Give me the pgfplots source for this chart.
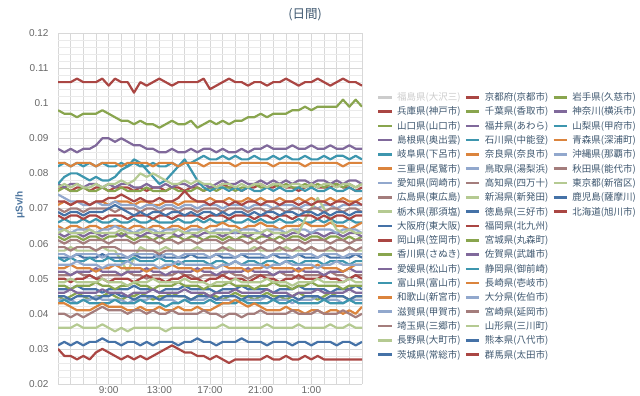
\documentclass[border=0pt]{standalone}
\usepackage{fontspec}
\setmainfont{Liberation Sans}
\newfontfamily\jp{Noto Sans CJK JP}
\usepackage{pgfplots}
\usepackage{pgfplotstable}
\pgfplotsset{compat=1.18}
\definecolor{c0}{HTML}{4572A7}
\definecolor{c1}{HTML}{AA4643}
\definecolor{c2}{HTML}{89A54E}
\definecolor{c3}{HTML}{80699B}
\definecolor{c4}{HTML}{3D96AE}
\definecolor{c5}{HTML}{DB843D}
\definecolor{c6}{HTML}{92A8CD}
\definecolor{c7}{HTML}{A47D7C}
\definecolor{c8}{HTML}{B5CA92}
\definecolor{hid}{HTML}{CCCCCC}
\definecolor{legtxt}{HTML}{3E576F}
\definecolor{ticktxt}{HTML}{666666}
\definecolor{ytitle}{HTML}{4D759E}
\definecolor{majg}{HTML}{D8D8D8}
\definecolor{ming}{HTML}{EAEAEA}

\pgfplotstableread{
id 5 5.5 6 6.5 7 7.5 8 8.5 9 9.5 10 10.5 11 11.5 12 12.5 13 13.5 14 14.5 15 15.5 16 16.5 17 17.5 18 18.5 19 19.5 20 20.5 21 21.5 22 22.5 23 23.5 24 24.5 25 25.5 26 26.5 27 27.5 28 28.5 29
s01 0.076 0.076 0.075 0.076 0.076 0.075 0.076 0.076 0.075 0.076 0.076 0.076 0.075 0.076 0.075 0.076 0.076 0.075 0.076 0.076 0.075 0.076 0.076 0.075 0.076 0.076 0.077 0.076 0.076 0.075 0.076 0.076 0.077 0.076 0.076 0.077 0.076 0.076 0.075 0.076 0.077 0.076 0.076 0.076 0.077 0.076 0.076 0.075 0.076
s02 0.075 0.076 0.075 0.075 0.076 0.075 0.075 0.076 0.075 0.075 0.076 0.075 0.075 0.075 0.076 0.075 0.075 0.075 0.076 0.075 0.075 0.075 0.076 0.075 0.076 0.075 0.076 0.076 0.075 0.076 0.076 0.077 0.076 0.076 0.077 0.076 0.077 0.076 0.076 0.077 0.076 0.077 0.076 0.077 0.077 0.076 0.077 0.076 0.077
s03 0.077 0.076 0.077 0.077 0.076 0.077 0.077 0.076 0.077 0.076 0.077 0.077 0.076 0.076 0.077 0.076 0.076 0.077 0.076 0.077 0.077 0.076 0.077 0.077 0.076 0.077 0.078 0.077 0.077 0.078 0.077 0.077 0.078 0.077 0.078 0.077 0.078 0.077 0.078 0.078 0.077 0.078 0.078 0.077 0.078 0.077 0.078 0.078 0.077
s04 0.077 0.079 0.080 0.080 0.079 0.078 0.079 0.078 0.078 0.079 0.081 0.082 0.084 0.083 0.081 0.079 0.077 0.078 0.080 0.082 0.084 0.081 0.078 0.076 0.075 0.076 0.076 0.075 0.076 0.075 0.076 0.075 0.075 0.076 0.075 0.076 0.075 0.075 0.076 0.075 0.076 0.075 0.075 0.076 0.075 0.075 0.076 0.075 0.075
s05 0.071 0.072 0.071 0.072 0.072 0.071 0.072 0.072 0.071 0.072 0.072 0.072 0.071 0.072 0.072 0.071 0.071 0.072 0.072 0.071 0.072 0.072 0.072 0.072 0.073 0.072 0.072 0.073 0.072 0.072 0.073 0.072 0.073 0.072 0.072 0.073 0.072 0.072 0.073 0.072 0.073 0.072 0.072 0.073 0.072 0.073 0.072 0.072 0.073
s06 0.074 0.073 0.072 0.072 0.071 0.071 0.072 0.071 0.071 0.072 0.071 0.071 0.071 0.070 0.071 0.071 0.070 0.071 0.071 0.070 0.071 0.071 0.070 0.071 0.071 0.071 0.070 0.071 0.071 0.071 0.070 0.071 0.071 0.071 0.070 0.071 0.071 0.071 0.070 0.071 0.071 0.070 0.071 0.071 0.070 0.071 0.071 0.071 0.071
s07 0.070 0.069 0.070 0.070 0.069 0.070 0.070 0.070 0.070 0.069 0.070 0.070 0.070 0.069 0.070 0.070 0.069 0.070 0.070 0.069 0.070 0.070 0.069 0.070 0.070 0.070 0.069 0.070 0.070 0.070 0.069 0.070 0.070 0.069 0.070 0.070 0.069 0.070 0.070 0.069 0.070 0.070 0.069 0.070 0.070 0.069 0.070 0.070 0.069
s08 0.076 0.077 0.076 0.077 0.076 0.076 0.077 0.076 0.077 0.077 0.078 0.077 0.078 0.080 0.079 0.080 0.079 0.078 0.077 0.077 0.078 0.077 0.078 0.077 0.077 0.076 0.077 0.077 0.076 0.077 0.076 0.077 0.077 0.076 0.077 0.077 0.076 0.077 0.077 0.076 0.077 0.076 0.077 0.077 0.076 0.077 0.077 0.076 0.077
s09 0.045 0.045 0.044 0.045 0.045 0.045 0.044 0.045 0.045 0.046 0.045 0.045 0.044 0.045 0.045 0.045 0.044 0.045 0.045 0.045 0.045 0.044 0.045 0.045 0.045 0.044 0.045 0.045 0.045 0.044 0.045 0.045 0.045 0.045 0.044 0.045 0.045 0.045 0.044 0.045 0.045 0.045 0.044 0.045 0.045 0.045 0.044 0.045 0.045
s10 0.050 0.050 0.049 0.050 0.050 0.051 0.050 0.050 0.049 0.050 0.050 0.050 0.049 0.050 0.051 0.050 0.050 0.049 0.050 0.050 0.051 0.050 0.050 0.049 0.050 0.050 0.051 0.050 0.050 0.050 0.049 0.050 0.051 0.050 0.050 0.049 0.050 0.050 0.051 0.050 0.050 0.050 0.051 0.050 0.050 0.049 0.050 0.051 0.050
s11 0.048 0.048 0.047 0.048 0.048 0.048 0.049 0.048 0.048 0.047 0.048 0.048 0.049 0.048 0.048 0.047 0.048 0.048 0.048 0.049 0.048 0.048 0.048 0.047 0.048 0.048 0.048 0.049 0.048 0.048 0.048 0.047 0.048 0.048 0.049 0.048 0.048 0.047 0.048 0.048 0.049 0.048 0.048 0.048 0.048 0.047 0.048 0.048 0.048
s12 0.052 0.052 0.051 0.052 0.052 0.052 0.053 0.052 0.052 0.052 0.051 0.052 0.052 0.052 0.053 0.052 0.052 0.051 0.052 0.052 0.052 0.052 0.053 0.052 0.052 0.051 0.052 0.052 0.052 0.052 0.053 0.052 0.052 0.052 0.051 0.052 0.052 0.052 0.053 0.052 0.052 0.052 0.051 0.052 0.052 0.052 0.053 0.052 0.052
s13 0.056 0.055 0.056 0.055 0.055 0.056 0.055 0.055 0.056 0.055 0.055 0.055 0.056 0.055 0.055 0.055 0.056 0.055 0.055 0.054 0.055 0.055 0.055 0.055 0.054 0.055 0.055 0.054 0.055 0.054 0.055 0.055 0.054 0.055 0.055 0.054 0.055 0.055 0.054 0.055 0.055 0.055 0.054 0.055 0.055 0.055 0.054 0.055 0.055
s14 0.053 0.053 0.054 0.053 0.053 0.053 0.052 0.053 0.053 0.054 0.053 0.053 0.053 0.053 0.052 0.053 0.053 0.053 0.054 0.053 0.053 0.053 0.052 0.053 0.053 0.053 0.054 0.053 0.053 0.053 0.052 0.053 0.053 0.054 0.053 0.053 0.053 0.053 0.052 0.053 0.053 0.054 0.053 0.053 0.053 0.052 0.053 0.054 0.054
s15 0.057 0.057 0.056 0.057 0.057 0.057 0.057 0.056 0.057 0.057 0.057 0.056 0.057 0.057 0.057 0.057 0.056 0.057 0.057 0.056 0.057 0.057 0.057 0.057 0.056 0.057 0.057 0.057 0.056 0.057 0.057 0.057 0.057 0.056 0.057 0.057 0.057 0.056 0.057 0.057 0.057 0.056 0.057 0.057 0.057 0.056 0.057 0.057 0.057
s16 0.059 0.059 0.058 0.059 0.059 0.059 0.058 0.059 0.059 0.059 0.058 0.058 0.058 0.058 0.058 0.058 0.057 0.058 0.058 0.058 0.058 0.058 0.058 0.058 0.058 0.058 0.059 0.058 0.058 0.058 0.058 0.058 0.059 0.058 0.058 0.059 0.058 0.058 0.059 0.058 0.059 0.058 0.058 0.059 0.058 0.058 0.059 0.058 0.059
s17 0.036 0.036 0.036 0.037 0.036 0.036 0.036 0.037 0.036 0.035 0.036 0.035 0.036 0.036 0.036 0.036 0.036 0.035 0.036 0.036 0.036 0.036 0.036 0.036 0.036 0.036 0.037 0.036 0.036 0.036 0.036 0.036 0.036 0.037 0.036 0.036 0.036 0.036 0.037 0.036 0.036 0.036 0.036 0.037 0.036 0.036 0.037 0.036 0.036
s18 0.069 0.068 0.069 0.069 0.068 0.069 0.069 0.069 0.070 0.071 0.070 0.069 0.068 0.069 0.068 0.069 0.069 0.068 0.069 0.069 0.068 0.069 0.068 0.069 0.069 0.068 0.069 0.068 0.069 0.069 0.068 0.069 0.068 0.069 0.069 0.068 0.069 0.069 0.068 0.069 0.069 0.068 0.069 0.068 0.069 0.069 0.068 0.069 0.069
s19 0.106 0.106 0.106 0.107 0.106 0.106 0.106 0.107 0.105 0.107 0.106 0.106 0.103 0.106 0.105 0.106 0.107 0.106 0.105 0.106 0.106 0.106 0.106 0.107 0.104 0.105 0.106 0.107 0.106 0.106 0.105 0.106 0.106 0.105 0.106 0.106 0.107 0.106 0.105 0.106 0.106 0.107 0.106 0.105 0.106 0.107 0.106 0.106 0.105
s20 0.062 0.061 0.062 0.062 0.061 0.062 0.062 0.061 0.062 0.062 0.063 0.062 0.061 0.062 0.062 0.061 0.062 0.061 0.062 0.062 0.061 0.062 0.062 0.061 0.062 0.062 0.061 0.062 0.061 0.062 0.062 0.061 0.062 0.062 0.061 0.062 0.061 0.062 0.062 0.061 0.062 0.062 0.061 0.062 0.062 0.061 0.062 0.061 0.062
s21 0.087 0.086 0.087 0.086 0.087 0.087 0.088 0.090 0.090 0.089 0.090 0.089 0.088 0.088 0.087 0.087 0.086 0.086 0.087 0.086 0.086 0.087 0.086 0.087 0.087 0.086 0.087 0.086 0.086 0.087 0.086 0.087 0.087 0.088 0.087 0.087 0.087 0.088 0.087 0.087 0.088 0.087 0.087 0.088 0.087 0.087 0.088 0.087 0.087
s22 0.082 0.083 0.082 0.083 0.082 0.083 0.082 0.083 0.082 0.082 0.083 0.082 0.083 0.082 0.082 0.083 0.082 0.082 0.083 0.082 0.083 0.083 0.084 0.085 0.084 0.084 0.085 0.084 0.085 0.084 0.084 0.085 0.084 0.084 0.085 0.084 0.085 0.084 0.084 0.085 0.084 0.084 0.085 0.084 0.085 0.085 0.084 0.085 0.084
s23 0.083 0.083 0.082 0.083 0.083 0.083 0.082 0.083 0.083 0.083 0.082 0.083 0.083 0.083 0.083 0.082 0.083 0.083 0.083 0.082 0.083 0.083 0.083 0.082 0.083 0.083 0.083 0.083 0.082 0.083 0.083 0.083 0.083 0.083 0.082 0.083 0.083 0.083 0.083 0.082 0.083 0.083 0.083 0.083 0.083 0.082 0.083 0.083 0.083
s24 0.064 0.064 0.063 0.064 0.064 0.064 0.063 0.064 0.064 0.065 0.064 0.064 0.063 0.064 0.064 0.064 0.063 0.064 0.064 0.064 0.063 0.064 0.064 0.064 0.063 0.064 0.064 0.064 0.063 0.064 0.064 0.064 0.063 0.064 0.064 0.064 0.063 0.064 0.064 0.064 0.063 0.064 0.064 0.064 0.063 0.064 0.064 0.064 0.063
s25 0.061 0.060 0.061 0.061 0.060 0.061 0.061 0.061 0.060 0.061 0.061 0.061 0.060 0.061 0.061 0.061 0.060 0.061 0.061 0.060 0.061 0.061 0.060 0.061 0.061 0.061 0.060 0.061 0.061 0.061 0.060 0.061 0.060 0.061 0.061 0.060 0.061 0.061 0.061 0.060 0.061 0.061 0.061 0.060 0.061 0.061 0.060 0.061 0.061
s26 0.058 0.058 0.059 0.058 0.058 0.058 0.058 0.059 0.058 0.058 0.055 0.052 0.056 0.059 0.058 0.058 0.058 0.059 0.058 0.058 0.058 0.058 0.059 0.058 0.058 0.058 0.058 0.059 0.058 0.058 0.058 0.059 0.058 0.058 0.058 0.058 0.059 0.058 0.058 0.058 0.059 0.058 0.058 0.058 0.058 0.058 0.059 0.058 0.058
s27 0.056 0.056 0.056 0.057 0.056 0.056 0.056 0.057 0.056 0.056 0.056 0.056 0.057 0.056 0.056 0.056 0.057 0.056 0.056 0.056 0.056 0.057 0.056 0.056 0.056 0.057 0.056 0.056 0.056 0.057 0.056 0.056 0.056 0.056 0.057 0.056 0.056 0.056 0.057 0.056 0.056 0.056 0.057 0.056 0.056 0.056 0.056 0.057 0.056
s28 0.072 0.072 0.071 0.072 0.072 0.071 0.072 0.072 0.073 0.073 0.074 0.073 0.072 0.073 0.072 0.072 0.073 0.072 0.072 0.073 0.075 0.073 0.072 0.072 0.071 0.072 0.072 0.071 0.072 0.071 0.072 0.072 0.071 0.072 0.072 0.071 0.072 0.072 0.071 0.072 0.071 0.072 0.072 0.071 0.072 0.072 0.071 0.072 0.071
s29 0.098 0.097 0.097 0.096 0.097 0.097 0.097 0.098 0.097 0.096 0.095 0.095 0.094 0.095 0.094 0.094 0.093 0.094 0.095 0.094 0.094 0.095 0.093 0.094 0.095 0.094 0.095 0.094 0.095 0.095 0.096 0.096 0.097 0.096 0.097 0.097 0.097 0.098 0.098 0.099 0.098 0.099 0.099 0.099 0.099 0.101 0.099 0.101 0.099
s30 0.046 0.046 0.047 0.046 0.046 0.046 0.046 0.047 0.046 0.046 0.046 0.045 0.046 0.046 0.046 0.047 0.046 0.046 0.046 0.046 0.047 0.046 0.046 0.046 0.045 0.046 0.046 0.046 0.047 0.046 0.046 0.046 0.046 0.047 0.046 0.046 0.046 0.045 0.046 0.046 0.046 0.047 0.046 0.046 0.046 0.046 0.047 0.046 0.046
s31 0.043 0.044 0.043 0.043 0.044 0.043 0.043 0.043 0.043 0.044 0.043 0.043 0.043 0.044 0.043 0.043 0.043 0.042 0.043 0.043 0.044 0.043 0.043 0.043 0.044 0.043 0.043 0.043 0.043 0.044 0.043 0.043 0.043 0.043 0.044 0.043 0.043 0.044 0.043 0.043 0.043 0.043 0.044 0.043 0.043 0.043 0.044 0.043 0.043
s32 0.043 0.043 0.042 0.041 0.041 0.041 0.042 0.043 0.042 0.042 0.042 0.041 0.041 0.042 0.041 0.041 0.042 0.041 0.041 0.042 0.041 0.041 0.042 0.041 0.041 0.042 0.043 0.043 0.044 0.043 0.042 0.043 0.042 0.041 0.041 0.041 0.042 0.041 0.041 0.040 0.041 0.041 0.040 0.041 0.041 0.040 0.041 0.040 0.042
s33 0.054 0.054 0.054 0.055 0.054 0.054 0.054 0.053 0.054 0.054 0.054 0.055 0.054 0.054 0.054 0.054 0.053 0.054 0.054 0.055 0.054 0.054 0.054 0.054 0.054 0.053 0.054 0.054 0.055 0.054 0.054 0.054 0.054 0.053 0.054 0.054 0.055 0.054 0.054 0.054 0.054 0.053 0.054 0.054 0.055 0.054 0.054 0.054 0.054
s34 0.040 0.040 0.039 0.040 0.039 0.040 0.041 0.042 0.041 0.041 0.041 0.040 0.041 0.041 0.040 0.041 0.040 0.040 0.041 0.040 0.040 0.040 0.040 0.041 0.040 0.040 0.039 0.040 0.040 0.039 0.040 0.040 0.041 0.040 0.040 0.040 0.040 0.041 0.040 0.040 0.040 0.041 0.040 0.040 0.040 0.041 0.040 0.039 0.040
s35 0.049 0.049 0.050 0.049 0.049 0.049 0.049 0.050 0.049 0.049 0.049 0.048 0.049 0.049 0.049 0.050 0.049 0.049 0.049 0.049 0.050 0.049 0.049 0.049 0.048 0.049 0.049 0.049 0.050 0.049 0.049 0.049 0.049 0.050 0.049 0.049 0.049 0.048 0.049 0.049 0.049 0.050 0.049 0.049 0.049 0.049 0.050 0.049 0.049
s36 0.031 0.032 0.031 0.032 0.031 0.032 0.032 0.033 0.032 0.032 0.031 0.032 0.032 0.031 0.032 0.031 0.032 0.032 0.032 0.031 0.032 0.032 0.033 0.032 0.032 0.031 0.032 0.032 0.032 0.033 0.032 0.032 0.032 0.031 0.032 0.032 0.032 0.031 0.032 0.032 0.031 0.032 0.032 0.032 0.031 0.032 0.032 0.031 0.032
s37 0.030 0.028 0.028 0.027 0.028 0.027 0.029 0.030 0.029 0.028 0.027 0.028 0.027 0.028 0.027 0.028 0.029 0.030 0.031 0.030 0.029 0.029 0.028 0.028 0.027 0.028 0.027 0.026 0.027 0.027 0.027 0.027 0.027 0.028 0.027 0.027 0.028 0.027 0.027 0.028 0.027 0.028 0.027 0.027 0.027 0.027 0.027 0.027 0.027
s38 0.045 0.044 0.045 0.046 0.045 0.044 0.045 0.045 0.046 0.045 0.044 0.045 0.045 0.046 0.045 0.044 0.045 0.045 0.046 0.045 0.045 0.044 0.045 0.046 0.045 0.045 0.044 0.045 0.046 0.045 0.045 0.044 0.045 0.046 0.045 0.045 0.044 0.045 0.046 0.045 0.045 0.044 0.045 0.046 0.045 0.045 0.044 0.045 0.045
s39 0.063 0.062 0.063 0.063 0.062 0.063 0.063 0.062 0.063 0.063 0.062 0.063 0.063 0.062 0.063 0.063 0.062 0.063 0.063 0.062 0.063 0.063 0.062 0.063 0.063 0.063 0.062 0.063 0.063 0.063 0.062 0.063 0.063 0.062 0.063 0.063 0.062 0.063 0.063 0.062 0.063 0.063 0.062 0.063 0.063 0.062 0.063 0.063 0.062
s40 0.066 0.067 0.066 0.066 0.067 0.066 0.067 0.066 0.066 0.067 0.066 0.066 0.067 0.066 0.066 0.067 0.066 0.066 0.066 0.067 0.066 0.066 0.067 0.066 0.067 0.066 0.066 0.067 0.066 0.066 0.067 0.066 0.067 0.066 0.066 0.067 0.066 0.066 0.067 0.066 0.066 0.067 0.066 0.067 0.066 0.066 0.067 0.066 0.066
s41 0.065 0.064 0.065 0.065 0.064 0.065 0.065 0.064 0.065 0.065 0.065 0.064 0.065 0.065 0.064 0.065 0.065 0.064 0.065 0.065 0.064 0.065 0.065 0.064 0.065 0.065 0.066 0.065 0.065 0.064 0.065 0.065 0.066 0.065 0.065 0.064 0.065 0.065 0.065 0.066 0.065 0.065 0.065 0.066 0.065 0.065 0.064 0.065 0.066
s42 0.044 0.044 0.044 0.043 0.044 0.044 0.045 0.044 0.044 0.044 0.044 0.043 0.044 0.044 0.044 0.045 0.044 0.044 0.044 0.043 0.044 0.044 0.044 0.044 0.045 0.044 0.044 0.044 0.043 0.044 0.044 0.044 0.044 0.045 0.044 0.044 0.044 0.043 0.044 0.044 0.044 0.045 0.044 0.044 0.044 0.043 0.044 0.044 0.044
s43 0.051 0.051 0.051 0.052 0.051 0.051 0.050 0.051 0.051 0.051 0.051 0.052 0.051 0.051 0.050 0.051 0.051 0.051 0.051 0.052 0.051 0.051 0.050 0.051 0.051 0.051 0.051 0.052 0.051 0.051 0.050 0.051 0.051 0.051 0.051 0.052 0.051 0.051 0.050 0.051 0.051 0.051 0.051 0.052 0.051 0.051 0.050 0.051 0.051
s44 0.063 0.064 0.063 0.063 0.063 0.064 0.063 0.063 0.063 0.063 0.064 0.063 0.063 0.063 0.064 0.063 0.063 0.063 0.063 0.064 0.063 0.063 0.063 0.064 0.063 0.063 0.063 0.063 0.064 0.063 0.063 0.063 0.063 0.064 0.063 0.063 0.063 0.064 0.063 0.067 0.070 0.073 0.070 0.067 0.064 0.063 0.064 0.063 0.063
s45 0.047 0.047 0.047 0.048 0.047 0.047 0.047 0.046 0.047 0.047 0.047 0.047 0.048 0.047 0.047 0.047 0.046 0.047 0.047 0.047 0.048 0.047 0.047 0.047 0.047 0.046 0.047 0.047 0.047 0.048 0.047 0.047 0.047 0.047 0.046 0.047 0.047 0.047 0.048 0.047 0.047 0.047 0.047 0.046 0.047 0.047 0.047 0.048 0.047
s46 0.068 0.067 0.068 0.068 0.067 0.068 0.068 0.067 0.068 0.068 0.068 0.067 0.068 0.068 0.068 0.067 0.068 0.068 0.067 0.068 0.068 0.068 0.068 0.067 0.068 0.068 0.068 0.067 0.068 0.068 0.068 0.067 0.068 0.068 0.067 0.068 0.068 0.067 0.068 0.068 0.068 0.067 0.068 0.067 0.068 0.068 0.067 0.068 0.068
}\rawdata
\pgfplotstabletranspose[colnames from=id,input colnames to=t]{\data}{\rawdata}

\newcommand\lgt[1]{\makebox[63pt][l]{#1}}
\newcommand\ser[3]{\addplot[draw=c#1] table[x=t,y=s#2]{\data};\addlegendentry{\lgt{#3}}}
\newcommand\gap{\addlegendimage{empty legend}\addlegendentry{}}

\begin{document}
\begin{tikzpicture}
\useasboundingbox (0pt,0pt) rectangle (640pt,396pt);
\begin{axis}[
  at={(58pt,12pt)}, anchor=south west, scale only axis,
  width=304pt, height=351pt,
  xmin=5, xmax=29, ymin=0.02, ymax=0.12,
  xtick={5,6,...,29},
  xticklabels={,,,,9:00,,,,13:00,,,,17:00,,,,21:00,,,,1:00,,,,},
  ytick={0.02,0.03,0.04,0.05,0.06,0.07,0.08,0.09,0.1,0.11,0.12},
  yticklabels={0.02,0.03,0.04,0.05,0.06,0.07,0.08,0.09,0.1,0.11,0.12},
  minor y tick num=4,
  xmajorgrids, ymajorgrids, yminorgrids,
  major grid style={majg, line width=0.6pt},
  minor grid style={ming, line width=0.6pt},
  axis line style={draw=none},
  major tick length=0pt, minor tick length=0pt,
  tick style={draw=none},
  scaled y ticks=false,
  ticklabel style={font=\fontsize{10}{12}\selectfont, text=ticktxt},
  yticklabel style={xshift=-6pt},
  xticklabel style={yshift=1.5pt},
  no markers,
  every axis plot/.append style={line width=2.2pt, line join=round},
  legend cell align=left,
  legend columns=3,
  legend image code/.code={\draw[#1,line width=2.6pt] (0pt,0pt) -- (13.5pt,0pt);},
  legend style={at={(1.049,0.838)}, anchor=north west, draw=none, fill=none,
    inner sep=0pt, row sep=0pt,
    font=\fontsize{9.5}{11}\selectfont\jp, text=legtxt,
    nodes={inner sep=0pt, text height=10.6pt, text depth=3.7pt},
    /tikz/every odd column/.append style={column sep=4pt},
    /tikz/every even column/.append style={column sep=4.5pt}},
]
% row 1
\addlegendimage{draw=hid}\addlegendentry{\lgt{\color{hid}福島県(大沢三)}}
\ser{1}{19}{京都府(京都市)}
\ser{2}{38}{岩手県(久慈市)}
% row 2
\ser{1}{01}{兵庫県(神戸市)}
\ser{2}{20}{千葉県(香取市)}
\ser{3}{39}{神奈川(横浜市)}
% row 3
\ser{2}{02}{山口県(山口市)}
\ser{3}{21}{福井県(あわら)}
\ser{4}{40}{山梨県(甲府市)}
% row 4
\ser{3}{03}{島根県(奥出雲)}
\ser{4}{22}{石川県(中能登)}
\ser{5}{41}{青森県(深浦町)}
% row 5
\ser{4}{04}{岐阜県(下呂市)}
\ser{5}{23}{奈良県(奈良市)}
\ser{6}{42}{沖縄県(那覇市)}
% row 6
\ser{5}{05}{三重県(尾鷲市)}
\ser{6}{24}{鳥取県(湯梨浜)}
\ser{7}{43}{秋田県(能代市)}
% row 7
\ser{6}{06}{愛知県(岡崎市)}
\ser{7}{25}{高知県(四万十)}
\ser{8}{44}{東京都(新宿区)}
% row 8
\ser{7}{07}{広島県(東広島)}
\ser{8}{26}{新潟県(新発田)}
\ser{0}{45}{鹿児島(薩摩川)}
% row 9
\ser{8}{08}{栃木県(那須塩)}
\ser{0}{27}{徳島県(三好市)}
\ser{1}{46}{北海道(旭川市)}
% rows 10-19
\ser{0}{09}{大阪府(東大阪)}
\ser{1}{28}{福岡県(北九州)}
\gap
\ser{1}{10}{岡山県(笠岡市)}
\ser{2}{29}{宮城県(丸森町)}
\gap
\ser{2}{11}{香川県(さぬき)}
\ser{3}{30}{佐賀県(武雄市)}
\gap
\ser{3}{12}{愛媛県(松山市)}
\ser{4}{31}{静岡県(御前崎)}
\gap
\ser{4}{13}{富山県(富山市)}
\ser{5}{32}{長崎県(壱岐市)}
\gap
\ser{5}{14}{和歌山(新宮市)}
\ser{6}{33}{大分県(佐伯市)}
\gap
\ser{6}{15}{滋賀県(甲賀市)}
\ser{7}{34}{宮崎県(延岡市)}
\gap
\ser{7}{16}{埼玉県(三郷市)}
\ser{8}{35}{山形県(三川町)}
\gap
\ser{8}{17}{長野県(大町市)}
\ser{0}{36}{熊本県(八代市)}
\gap
\ser{0}{18}{茨城県(常総市)}
\ser{1}{37}{群馬県(太田市)}
\end{axis}
\node[font=\fontsize{12.5}{15}\selectfont\jp, text=legtxt] at (305pt,381pt) {(日間)};
\node[rotate=90, font=\fontsize{10}{12}\selectfont\bfseries, text=ytitle] at (20pt,191pt) {μSv/h};
\end{tikzpicture}
\end{document}
